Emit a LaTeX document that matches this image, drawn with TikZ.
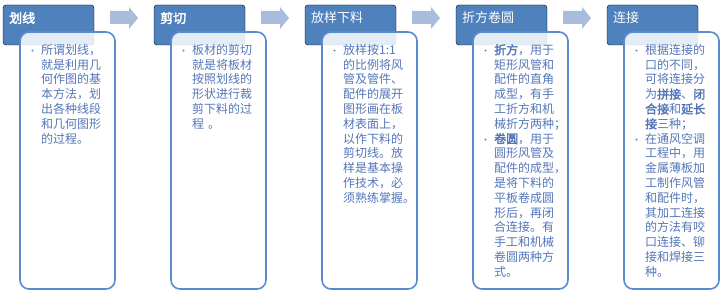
\documentclass[tikz,border=0pt]{standalone}
\usepackage{fontspec}
\setmainfont{Noto Sans CJK SC}[AutoFakeBold=2.5]
\usetikzlibrary{calc}
\definecolor{hdr}{HTML}{4F81BD}
\definecolor{bord}{HTML}{5A8AD0}
\definecolor{txt}{HTML}{5476B8}
\definecolor{arr}{HTML}{A9BCDC}
\newcommand{\bul}{\leavevmode\llap{{\fontsize{9}{10}\selectfont •}\hspace{4pt}}}
\begin{document}
\begin{tikzpicture}[x=1pt,y=-1pt,
  hdrbox/.style={fill=hdr,rounded corners=3pt},
  hdrtext/.style={anchor=west,inner sep=0pt,text=white,font=\fontsize{13}{15}\selectfont},
  bodybox/.style={draw=bord,line width=1.6pt,fill=white,fill opacity=0.85,rounded corners=9pt},
  bodytext/.style={anchor=north west,inner sep=0pt,text=txt,text width=78pt,align=left,
    font=\fontsize{12}{14.8}\selectfont},
  flowarrow/.style={fill=arr}]
\useasboundingbox (0,0) rectangle (720,294);

% stage 1
\draw[hdrbox] (3,5) rectangle (94,45);
\node[hdrtext] (h1) at (9,18) {\textbf{划线}};
\draw[bodybox] (20,32) rectangle (115,289);
\node[bodytext] (b1) at (41,44) {\bul 所谓划线，\\就是利用几\\何作图的基\\本方法，划\\出各种线段\\和几何图形\\的过程。};
\fill[flowarrow] (110,11) -- (129,11) -- (129,7) -- (138,18) -- (129,29) -- (129,24) -- (110,24) -- cycle;

% stage 2
\draw[hdrbox] (154,5) rectangle (245,45);
\node[hdrtext] (h2) at (160,18) {\textbf{剪切}};
\draw[bodybox] (171,32) rectangle (266,289);
\node[bodytext] (b2) at (192,44) {\bul 板材的剪切\\就是将板材\\按照划线的\\形状进行裁\\剪下料的过\\程 。};
\fill[flowarrow] (261,11) -- (280,11) -- (280,7) -- (289,18) -- (280,29) -- (280,24) -- (261,24) -- cycle;

% stage 3
\draw[hdrbox] (305,5) rectangle (396,45);
\node[hdrtext] (h3) at (311,18) {放样下料};
\draw[bodybox] (322,32) rectangle (417,289);
\node[bodytext] (b3) at (343,44) {\bul 放样按1:1\\的比例将风\\管及管件、\\配件的展开\\图形画在板\\材表面上，\\以作下料的\\剪切线。放\\样是基本操\\作技术，必\\须熟练掌握。};
\fill[flowarrow] (412,11) -- (431,11) -- (431,7) -- (440,18) -- (431,29) -- (431,24) -- (412,24) -- cycle;

% stage 4
\draw[hdrbox] (456,5) rectangle (547,45);
\node[hdrtext] (h4) at (462,18) {折方卷圆};
\draw[bodybox] (473,32) rectangle (568,289);
\node[bodytext] (b4) at (494,44) {\bul\textbf{折方}，用于\\矩形风管和\\配件的直角\\成型，有手\\工折方和机\\械折方两种；\\ \bul\textbf{卷圆}，用于\\圆形风管及\\配件的成型，\\是将下料的\\平板卷成圆\\形后，再闭\\合连接。有\\手工和机械\\卷圆两种方\\式。};
\fill[flowarrow] (563,11) -- (582,11) -- (582,7) -- (591,18) -- (582,29) -- (582,24) -- (563,24) -- cycle;

% stage 5
\draw[hdrbox] (607,5) rectangle (698,45);
\node[hdrtext] (h5) at (613,18) {连接};
\draw[bodybox] (624,32) rectangle (719,289);
\node[bodytext] (b5) at (645,44) {\bul 根据连接的\\口的不同，\\可将连接分\\为\textbf{拼接}、\textbf{闭}\\\textbf{合接}和\textbf{延长}\\\textbf{接}三种；\\ \bul 在通风空调\\工程中，用\\金属薄板加\\工制作风管\\和配件时，\\其加工连接\\的方法有咬\\口连接、铆\\接和焊接三\\种。};
\end{tikzpicture}
\end{document}
